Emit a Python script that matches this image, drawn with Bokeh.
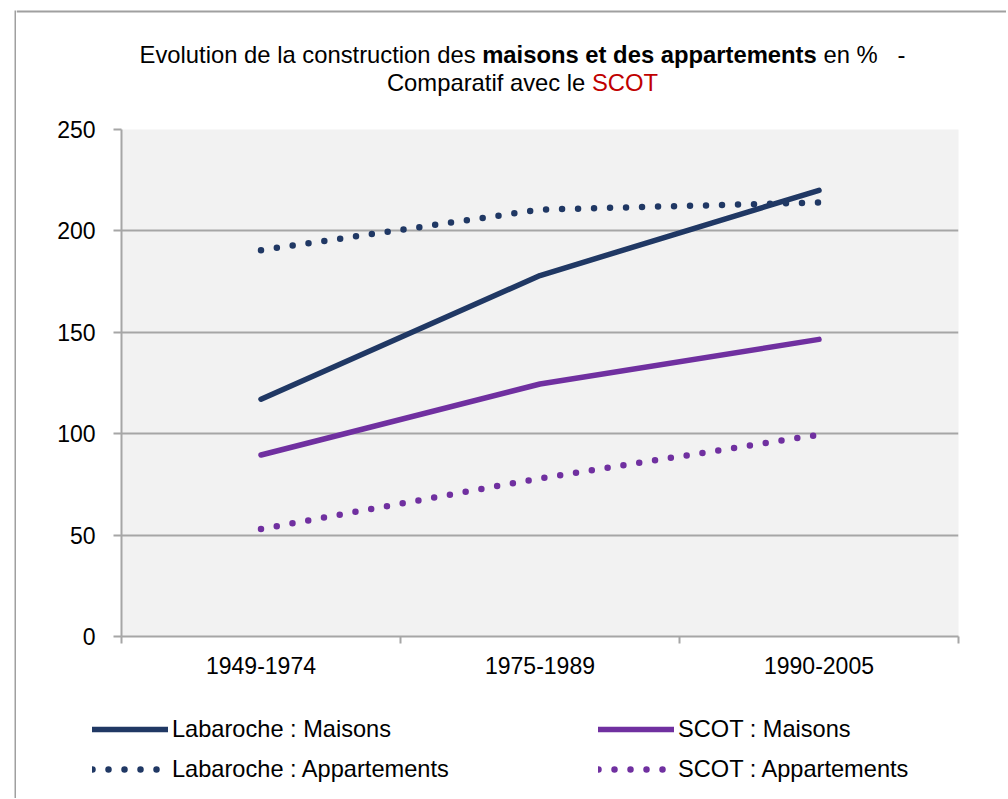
from bokeh.plotting import figure
from bokeh.models import Range1d, FixedTicker, Legend, LegendItem, Label, BoxAnnotation
from bokeh.layouts import row, column
from bokeh.embed import file_html
from bokeh.resources import INLINE

# ---- data ----
categories = ["1949-1974", "1975-1989", "1990-2005"]
labaroche_maisons = [117, 178, 220]
labaroche_appartements = [190.5, 210.5, 214]
scot_maisons = [89.5, 124.5, 146.5]
scot_appartements = [53, 78, 99.5]
y_ticks = [0, 50, 100, 150, 200, 250]

NAVY = "#203864"
PURPLE = "#7030a0"
GRID = "#a6a6a6"
FRAME = "#a0a0a0"
FONT = "Liberation Sans"

W, H = 1006, 798          # whole drawing
STRIP = 16                # left strip holding the outer frame line
TITLE_H = 100             # title band height
MAIN_BOTTOM = 690         # page y where the legend band starts

series = [
    ("Labaroche : Maisons", labaroche_maisons, NAVY, None),
    ("Labaroche : Appartements", labaroche_appartements, NAVY, "0 16"),
    ("SCOT : Maisons", scot_maisons, PURPLE, None),
    ("SCOT : Appartements", scot_appartements, PURPLE, "0 16"),
]

def draw_series(fig, xs, visible=True):
    rs = []
    for name, vals, col, dash in series:
        if dash is None:
            r = fig.line(xs, vals, line_color=col, line_width=5.5, line_cap="round",
                         visible=visible)
        else:
            r = fig.line(xs, vals, line_color=col, line_width=6.5, line_dash=dash,
                         line_cap="round", visible=visible)
        rs.append(r)
    return rs

# ---------- left strip (outer chart frame, left edge) ----------
strip = figure(width=STRIP, height=H, x_range=Range1d(0, STRIP), y_range=Range1d(H, 0),
               x_axis_type=None, y_axis_type=None, output_backend="svg",
               toolbar_location=None, min_border=0, outline_line_color=None,
               background_fill_color="white", border_fill_color="white",
               frame_align=False)
strip.add_layout(BoxAnnotation(left=14, right=16, top=10, bottom=H,
                               fill_color=FRAME, fill_alpha=1, line_color=None))

# ---------- title band ----------
tfig = figure(width=W - STRIP, height=TITLE_H, x_range=Range1d(STRIP, W),
              y_range=Range1d(TITLE_H, 0), x_axis_type=None, y_axis_type=None,
              output_backend="svg", toolbar_location=None, min_border=0,
              outline_line_color=None, background_fill_color="white",
              border_fill_color="white", frame_align=False)
tfig.add_layout(BoxAnnotation(left=STRIP, right=W, top=10, bottom=12,
                              fill_color=FRAME, fill_alpha=1, line_color=None))

REG = {" ": 278, "%": 889, "-": 333, "C": 722, "E": 667, "O": 778, "S": 667, "T": 611,
       "a": 556, "c": 500, "d": 556, "e": 556, "f": 278, "i": 222, "l": 222, "m": 833,
       "n": 556, "o": 556, "p": 556, "r": 333, "s": 500, "t": 278, "u": 556, "v": 500}
BOLD = {" ": 278, "a": 556, "d": 611, "e": 556, "i": 278, "m": 889, "n": 611, "o": 611,
        "p": 611, "r": 389, "s": 556, "t": 333}
TSIZE = 23.8

def tw(s, table):
    return sum(table.get(ch, 556) for ch in s) * TSIZE / 1000.0

line1 = [("Evolution de la construction des", " ", "normal", "black", REG),
         ("maisons et des appartements", " ", "bold", "black", BOLD),
         ("en %", "   ", "normal", "black", REG),
         ("-", "", "normal", "black", REG)]
line2 = [("Comparatif avec le", " ", "normal", "black", REG),
         ("SCOT", "", "normal", "#c00000", REG)]

CENTER = 522
for segs, base in ((line1, 54), (line2, 82)):
    total = sum(tw(s, t) + tw(g, REG) for s, g, _, _, t in segs)
    cx = CENTER - total / 2
    for s, g, style, col, t in segs:
        tfig.add_layout(Label(x=cx, y=base, text=s, text_font=FONT,
                              text_font_size=f"{TSIZE}px", text_font_style=style,
                              text_color=col, text_align="left",
                              text_baseline="alphabetic"))
        cx += tw(s, t) + tw(g, REG)

# ---------- main chart ----------
x = [i + 0.5 for i in range(len(categories))]
bounds = list(range(len(categories) + 1))

p = figure(width=W - STRIP, height=MAIN_BOTTOM - TITLE_H,
           x_range=Range1d(0, len(categories)), y_range=Range1d(0, 250),
           output_backend="svg", toolbar_location=None,
           min_border_left=121 - STRIP, min_border_right=W - 958,
           min_border_top=129 - TITLE_H, min_border_bottom=MAIN_BOTTOM - 636,
           background_fill_color="#f2f2f2", border_fill_color="white",
           outline_line_color=None, frame_align=False)
draw_series(p, x)

p.yaxis.ticker = FixedTicker(ticks=y_ticks)
p.yaxis.axis_line_color = GRID
p.yaxis.axis_line_width = 2
p.yaxis.major_tick_line_color = GRID
p.yaxis.major_tick_line_width = 2
p.yaxis.major_tick_out = 8
p.yaxis.major_tick_in = 0
p.yaxis.minor_tick_line_color = None
p.yaxis.major_label_standoff = 18
p.yaxis.major_label_text_font = FONT
p.yaxis.major_label_text_font_size = "23px"
p.yaxis.major_label_text_color = "black"

p.xaxis.ticker = FixedTicker(ticks=x, minor_ticks=bounds)
p.xaxis.major_label_overrides = {xi: c for xi, c in zip(x, categories)}
p.xaxis.axis_line_color = GRID
p.xaxis.axis_line_width = 2
p.xaxis.major_tick_line_color = None
p.xaxis.major_tick_out = 0
p.xaxis.major_tick_in = 0
p.xaxis.minor_tick_line_color = GRID
p.xaxis.minor_tick_line_width = 2
p.xaxis.minor_tick_out = 7
p.xaxis.minor_tick_in = 0
p.xaxis.major_label_standoff = 13
p.xaxis.major_label_text_font = FONT
p.xaxis.major_label_text_font_size = "23px"
p.xaxis.major_label_text_color = "black"

p.ygrid.ticker = FixedTicker(ticks=y_ticks)
p.ygrid.grid_line_color = GRID
p.ygrid.grid_line_width = 2
p.xgrid.grid_line_color = None

# ---------- legend band ----------
LH = H - MAIN_BOTTOM
lfig = figure(width=W - STRIP, height=LH, x_range=Range1d(0, len(categories)),
              y_range=Range1d(0, 250), x_axis_type=None, y_axis_type=None,
              output_backend="svg", toolbar_location=None, min_border=0,
              outline_line_color=None, background_fill_color="white",
              border_fill_color="white", frame_align=False)
lr = draw_series(lfig, x, visible=False)   # legend keys only

def make_legend(idx, loc):
    return Legend(items=[LegendItem(label=series[i][0], renderers=[lr[i]]) for i in idx],
                  location=loc, orientation="vertical", click_policy="none",
                  glyph_width=76, glyph_height=40, label_height=40,
                  label_standoff=4, spacing=0, padding=0, margin=0,
                  border_line_color=None, background_fill_alpha=0,
                  label_text_font=FONT, label_text_font_size="23.6px",
                  label_text_color="black", label_text_baseline="middle")

legend_top = 709 - MAIN_BOTTOM
vy = LH - legend_top - 80
lfig.add_layout(make_legend([0, 1], (92 - STRIP, vy)))
lfig.add_layout(make_legend([2, 3], (598 - STRIP, vy)))

layout = row(strip, column(tfig, p, lfig))
open("out.html", "w").write(file_html(layout, INLINE))
